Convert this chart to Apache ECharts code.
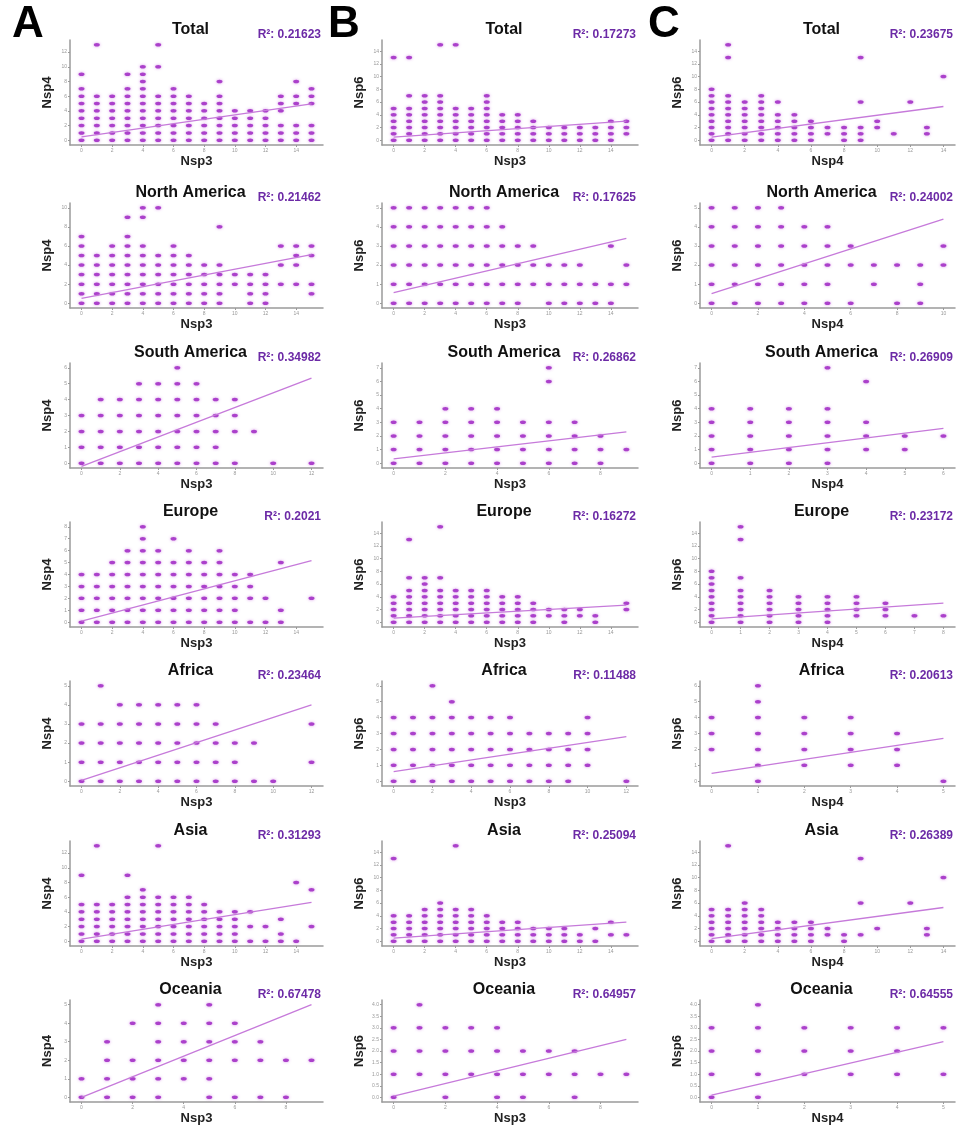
<!DOCTYPE html>
<html><head><meta charset="utf-8">
<script src="https://cdn.jsdelivr.net/npm/echarts@6/dist/echarts.min.js"></script>
<style>html,body{margin:0;padding:0;background:#fff}#c{width:959px;height:1126px}</style>
</head><body><div id="c"></div><script>
// ---------- DATA ----------
const regions = ['Total','North America','South America','Europe','Africa','Asia','Oceania'];
const panelLetters = ['A','B','C'];
const xNames = ['Nsp3','Nsp3','Nsp4'];
const yNames = ['Nsp4','Nsp6','Nsp6'];
const r2Labels = [
  ['0.21623','0.17273','0.23675'],
  ['0.21462','0.17625','0.24002'],
  ['0.34982','0.26862','0.26909'],
  ['0.2021','0.16272','0.23172'],
  ['0.23464','0.11488','0.20613'],
  ['0.31293','0.25094','0.26389'],
  ['0.67478','0.64957','0.64555']
];
// tick label settings per panel [row][col]
const xTickMax  = [[14,14,14],[14,14,10],[12,8,6],[14,14,8],[12,12,5],[14,14,14],[8,8,5]];
const xTickStep = [[2,2,2],[2,2,2],[2,2,1],[2,2,1],[2,2,1],[2,2,2],[2,2,1]];
const yTickMax  = [[12,14,14],[10,5,5],[6,7,7],[8,14,14],[5,6,6],[12,14,14],[5,4,4]];
const yTickStep = [[2,2,2],[2,1,1],[1,1,1],[1,2,2],[1,1,1],[2,2,2],[1,0.5,0.5]];

// points: [x, [y values at that x]]
const A_Total = [[0,[0,1,2,3,4,5,6,7,9]],[1,[0,1,2,3,4,5,6,13]],[2,[0,1,2,3,4,5,6]],[3,[0,1,2,3,4,5,6,7,9]],[4,[0,1,2,3,4,5,6,7,8,9,10]],[5,[0,1,2,3,4,5,6,10,13]],[6,[0,1,2,3,4,5,6,7]],[7,[0,1,2,3,4,5,6]],[8,[0,1,2,3,4,5]],[9,[0,1,2,3,4,5,6,8]],[10,[0,1,2,3,4]],[11,[0,1,2,3,4]],[12,[0,1,2,3,4]],[13,[0,1,2,4,5,6]],[14,[0,1,2,5,6,8]],[15,[0,1,2,5,6,7]]];
const B_Total = [[0,[0,1,2,3,4,5,13]],[1,[0,1,2,3,4,5,7,13]],[2,[0,1,2,3,4,5,6,7]],[3,[0,1,2,3,4,5,6,7,15]],[4,[0,1,2,3,4,5,15]],[5,[0,1,2,3,4,5]],[6,[0,1,2,3,4,5,6,7]],[7,[0,1,2,3,4]],[8,[0,1,2,3,4]],[9,[0,1,2,3]],[10,[0,1,2]],[11,[0,1,2]],[12,[0,1,2]],[13,[0,1,2]],[14,[0,1,2,3]],[15,[1,2,3]]];
const C_Total = [[0,[0,1,2,3,4,5,6,7,8]],[1,[0,1,2,3,4,5,6,7,13,15]],[2,[0,1,2,3,4,5,6]],[3,[0,1,2,3,4,5,6,7]],[4,[0,1,2,3,4,6]],[5,[0,1,2,3,4]],[6,[0,1,2,3]],[7,[1,2]],[8,[0,1,2]],[9,[0,1,2,6,13]],[10,[2,3]],[11,[1]],[12,[6]],[13,[1,2]],[14,[10]]];
const A_NA = [[0,[0,1,2,3,4,5,6,7]],[1,[0,1,2,3,4,5]],[2,[0,1,2,3,4,5,6]],[3,[0,1,2,3,4,5,6,7,9]],[4,[0,1,2,3,4,5,6,9,10]],[5,[0,1,2,3,4,5,10]],[6,[0,1,2,3,4,5,6]],[7,[0,1,2,3,4,5]],[8,[0,1,2,3,4]],[9,[0,1,2,3,4,8]],[10,[2,3]],[11,[0,1,2,3]],[12,[0,1,2,3]],[13,[2,4,6]],[14,[2,4,5,6]],[15,[1,2,5,6]]];
const B_NA = [[0,[0,1,2,3,4,5]],[1,[0,1,2,3,4,5]],[2,[0,1,2,3,4,5]],[3,[0,1,2,3,4,5]],[4,[0,1,2,3,4,5]],[5,[0,1,2,3,4,5]],[6,[0,1,2,3,4,5]],[7,[0,1,2,3,4]],[8,[0,1,2,3]],[9,[1,2,3]],[10,[0,1,2]],[11,[0,1,2]],[12,[0,1,2]],[13,[0,1]],[14,[0,1,3]],[15,[1,2]]];
const C_NA = [[0,[0,1,2,3,4,5]],[1,[0,1,2,3,4,5]],[2,[0,1,2,3,4,5]],[3,[0,1,2,3,4,5]],[4,[0,1,2,3,4]],[5,[0,1,2,3,4]],[6,[0,2,3]],[7,[1,2]],[8,[0,2]],[9,[0,1,2]],[10,[2,3]]];
const A_SA = [[0,[0,1,2,3]],[1,[0,1,2,3,4]],[2,[0,1,2,3,4]],[3,[0,1,2,3,4,5]],[4,[0,1,2,3,4,5]],[5,[0,1,2,3,4,5,6]],[6,[0,1,2,3,4,5]],[7,[0,1,2,3,4]],[8,[0,2,3,4]],[9,[2]],[10,[0]],[12,[0]]];
const B_SA = [[0,[0,1,2,3]],[1,[0,1,2,3]],[2,[0,1,2,3,4]],[3,[0,1,2,3,4]],[4,[0,1,2,3,4]],[5,[0,1,2,3]],[6,[0,1,2,3,6,7]],[7,[0,1,2,3]],[8,[0,1,2]],[9,[1]]];
const C_SA = [[0,[0,1,2,3,4]],[1,[0,1,2,3,4]],[2,[0,1,2,3,4]],[3,[0,1,2,3,4,7]],[4,[1,2,3,6]],[5,[1,2]],[6,[2]]];
const A_EU = [[0,[0,1,2,3,4]],[1,[0,1,2,3,4]],[2,[0,1,2,3,4,5]],[3,[0,1,2,3,4,5,6]],[4,[0,1,2,3,4,5,6,7,8]],[5,[0,1,2,3,4,5,6]],[6,[0,1,2,3,4,5,7]],[7,[0,1,2,3,4,5,6]],[8,[0,1,2,3,4,5]],[9,[0,1,2,3,4,5,6]],[10,[0,1,2,3,4]],[11,[0,2,3,4]],[12,[0,2]],[13,[0,1,5]],[15,[2]]];
const B_EU = [[0,[0,1,2,3,4]],[1,[0,1,2,3,4,5,7,13]],[2,[0,1,2,3,4,5,6,7]],[3,[0,1,2,3,4,5,7,15]],[4,[0,1,2,3,4,5]],[5,[0,1,2,3,4,5]],[6,[0,1,2,3,4,5]],[7,[0,1,2,3,4]],[8,[0,1,2,3,4]],[9,[0,1,2,3]],[10,[1,2]],[11,[0,1,2]],[12,[1,2]],[13,[0,1]],[15,[2,3]]];
const C_EU = [[0,[0,1,2,3,4,5,6,7,8]],[1,[0,1,2,3,4,5,7,13,15]],[2,[0,1,2,3,4,5]],[3,[0,1,2,3,4]],[4,[0,1,2,3,4]],[5,[1,2,3,4]],[6,[1,2,3]],[7,[1]],[8,[1]]];
const A_AF = [[0,[0,1,2,3]],[1,[0,1,2,3,5]],[2,[0,1,2,3,4]],[3,[0,1,2,3,4]],[4,[0,1,2,3,4]],[5,[0,1,2,3,4]],[6,[0,1,2,3,4]],[7,[0,1,2,3]],[8,[0,1,2]],[9,[0,2]],[10,[0]],[12,[1,3]]];
const B_AF = [[0,[0,1,2,3,4]],[1,[0,1,2,3,4]],[2,[0,1,2,3,4,6]],[3,[0,1,2,3,4,5]],[4,[0,1,2,3,4]],[5,[0,1,2,3,4]],[6,[0,1,2,3,4]],[7,[0,1,2,3]],[8,[0,1,2,3]],[9,[0,1,2,3]],[10,[1,2,3,4]],[12,[0]]];
const C_AF = [[0,[2,3,4]],[1,[0,1,2,3,4,5,6]],[2,[1,2,3,4]],[3,[1,2,3,4]],[4,[1,2,3]],[5,[0]]];
const A_AS = [[0,[0,1,2,3,4,5,9]],[1,[0,1,2,3,4,5,13]],[2,[0,1,2,3,4,5]],[3,[0,1,2,3,4,5,6,9]],[4,[0,1,2,3,4,5,6,7]],[5,[0,1,2,3,4,5,6,13]],[6,[0,1,2,3,4,5,6]],[7,[0,1,2,3,4,5,6]],[8,[0,1,2,3,4,5]],[9,[0,1,2,3,4]],[10,[0,1,2,3,4]],[11,[0,2,4]],[12,[0,2]],[13,[0,1,3]],[14,[0,8]],[15,[2,7]]];
const B_AS = [[0,[0,1,2,3,4,13]],[1,[0,1,2,3,4]],[2,[0,1,2,3,4,5]],[3,[0,1,2,3,4,5,6]],[4,[0,1,2,3,4,5,15]],[5,[0,1,2,3,4,5]],[6,[0,1,2,3,4]],[7,[0,1,2,3]],[8,[0,1,2,3]],[9,[0,1,2]],[10,[0,1,2]],[11,[0,1,2]],[12,[0,1]],[13,[0,2]],[14,[1,3]],[15,[1]]];
const C_AS = [[0,[0,1,2,3,4,5]],[1,[0,1,2,3,4,5,15]],[2,[0,1,2,3,4,5,6]],[3,[0,1,2,3,4,5]],[4,[0,1,2,3]],[5,[0,1,2,3]],[6,[0,1,2,3]],[7,[1,2]],[8,[0,1]],[9,[1,6,13]],[10,[2]],[12,[6]],[13,[1,2]],[14,[10]]];
const A_OC = [[0,[0,1]],[1,[0,1,2,3]],[2,[0,1,2,4]],[3,[0,1,2,3,4,5]],[4,[1,2,3,4]],[5,[0,1,2,3,4,5]],[6,[0,2,3,4]],[7,[0,2,3]],[8,[0,2]],[9,[2]]];
const B_OC = [[0,[0,1,2,3]],[1,[1,2,3,4]],[2,[0,1,2,3]],[3,[1,2,3]],[4,[0,1,2,3]],[5,[0,1,2]],[6,[1,2]],[7,[0,1,2]],[8,[1]],[9,[1]]];
const C_OC = [[0,[0,1,2,3]],[1,[0,1,2,3,4]],[2,[1,2,3]],[3,[1,2,3]],[4,[1,2,3]],[5,[1,3]]];

// regression line end points [[x0,y0],[x1,y1]]
const fitA = [[[0,0.45],[15,4.95]],[[0,0.5],[15,5.1]],[[0,-0.2],[12,5.35]],[[0,0.1],[15,5.17]],[[0,0.05],[12,4.0]],[[0,0.3],[15,5.3]],[[0,0.0],[9,5.0]]];
const fitB = [[[0,0.5],[15,3.0]],[[0,0.55],[15,3.4]],[[0,0.32],[9,2.3]],[[0,0.63],[15,2.7]],[[0,0.6],[12,2.8]],[[0,0.5],[15,3.0]],[[0,0.05],[9,2.5]]];
const fitC = [[[0,0.5],[14,5.3]],[[0,0.5],[10,4.4]],[[0,0.44],[6,2.56]],[[0,0.52],[8,3.0]],[[0,0.5],[5,2.7]],[[0,0.4],[14,5.3]],[[0,0.1],[5,2.4]]];

const pointsA = [A_Total,A_NA,A_SA,A_EU,A_AF,A_AS,A_OC];
const pointsB = [B_Total,B_NA,B_SA,B_EU,B_AF,B_AS,B_OC];
const pointsC = [C_Total,C_NA,C_SA,C_EU,C_AF,C_AS,C_OC];

// ---------- LAYOUT ----------
const colLeft = [70, 382, 700];
const colWidth = [253, 256, 255];
const rowTop = [40, 203, 363, 522, 681, 841, 1000];
const plotH = 105;
const FONT = '"Liberation Sans", Arial, Helvetica, sans-serif';
const DOT = '#a433c6';
const FITC = '#c67ada';
const AXC = '#9a9a9a';

const grids = [], xAxes = [], yAxes = [], series = [], graphics = [];
const pts = [pointsA, pointsB, pointsC];
const fits = [fitA, fitB, fitC];

function ticks(max, step){ const a=[]; for(let v=0; v<=max+1e-9; v+=step) a.push(+v.toFixed(2)); return a; }

for (let r = 0; r < 7; r++) {
  for (let c = 0; c < 3; c++) {
    const i = r*3 + c;
    const left = colLeft[c], top = rowTop[r], w = colWidth[c];
    grids.push({left: left, top: top, width: w, height: plotH});
    const data = [];
    pts[c][r].forEach(([x, ys]) => ys.forEach(y => data.push([x, y])));
    const xMaxD = Math.max(...data.map(d => d[0]), xTickMax[r][c]);
    const yMaxD = Math.max(...data.map(d => d[1]), yTickMax[r][c]);
    const xt = ticks(xTickMax[r][c], xTickStep[r][c]);
    const yt = ticks(yTickMax[r][c], yTickStep[r][c]);
    const yDec = yTickStep[r][c] < 1;
    xAxes.push({
      type:'value', gridIndex:i, min: -0.05*xMaxD, max: xMaxD*1.05,
      axisLine:{show:true, onZero:false, lineStyle:{color:AXC, width:1.5}},
      axisTick:{show:true, length:2, customValues: xt, lineStyle:{color:AXC}},
      axisLabel:{show:true, customValues: xt, fontSize:5, color:'#999', margin:3, fontFamily:FONT},
      splitLine:{show:false},
      name: xNames[c], nameLocation:'middle', nameGap: 10,
      nameTextStyle:{fontWeight:'bold', fontSize:13, color:'#222', fontFamily:FONT}
    });
    yAxes.push({
      type:'value', gridIndex:i, min: -0.05*yMaxD, max: yMaxD*1.05,
      axisLine:{show:true, onZero:false, lineStyle:{color:AXC, width:1.5}},
      axisTick:{show:true, length:2, customValues: yt, lineStyle:{color:AXC}},
      axisLabel:{show:true, customValues: yt, fontSize:5, color:'#999', margin:3, fontFamily:FONT,
        formatter: v => yDec ? v.toFixed(1) : String(v)},
      splitLine:{show:false},
      name: yNames[c], nameLocation:'middle', nameGap: 16,
      nameTextStyle:{fontWeight:'bold', fontSize:13, color:'#222', fontFamily:FONT}
    });
    series.push({
      type:'scatter', xAxisIndex:i, yAxisIndex:i, data: data,
      symbol:'circle', symbolSize:[6,3.5], silent:true, animation:false,
      itemStyle:{color:DOT, opacity:0.9, shadowBlur:3, shadowColor:'rgba(205,120,225,0.9)'}
    });
    series.push({
      type:'line', xAxisIndex:i, yAxisIndex:i, data: fits[c][r], symbol:'none',
      silent:true, animation:false, z:3,
      lineStyle:{color:FITC, width:1.3}
    });
    graphics.push({type:'text', x: left + w/2 - 6, y: top - 10,
      style:{text: regions[r], font:'bold 16px ' + FONT, fill:'#111', textAlign:'center', textVerticalAlign:'middle'}});
    graphics.push({type:'text', x: left + w - 2, y: top - 5,
      style:{text: 'R²: ' + r2Labels[r][c], font:'bold 12px ' + FONT, fill:'#6c2aa6', textAlign:'right', textVerticalAlign:'middle'}});
  }
}
const letterX = [28, 344, 664];
panelLetters.forEach((L, k) => graphics.push({type:'text', x: letterX[k], y: 25,
  style:{text: L, font:'bold 44px ' + FONT, fill:'#000', textAlign:'center', textVerticalAlign:'middle'}}));

const chart = echarts.init(document.getElementById('c'), null, {renderer:'canvas'});
chart.setOption({
  backgroundColor:'#fff', animation:false,
  grid: grids, xAxis: xAxes, yAxis: yAxes, series: series, graphic: graphics
});
</script></body></html>
